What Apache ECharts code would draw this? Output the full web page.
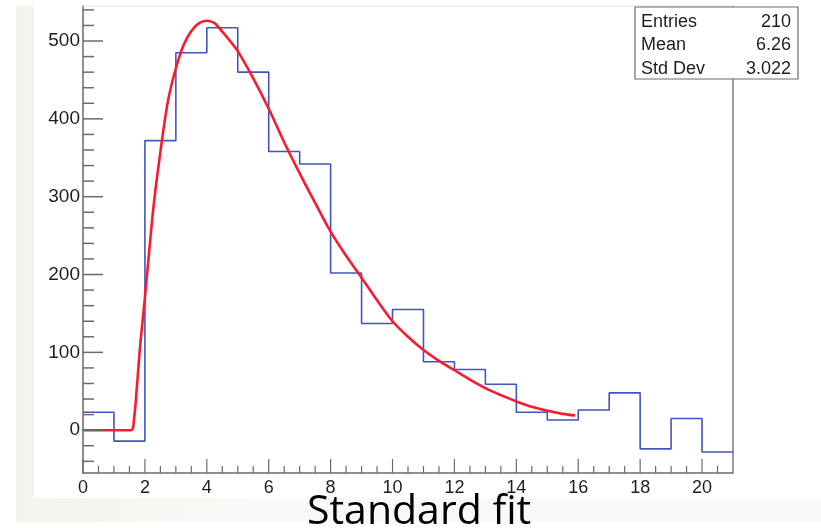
<!DOCTYPE html>
<html>
<head>
<meta charset="utf-8">
<script src="https://cdn.jsdelivr.net/npm/echarts@6/dist/echarts.min.js"></script>
<style>
html,body{margin:0;padding:0;background:#ffffff;}
#chart{width:821px;height:528px;}
</style>
</head>
<body>
<div id="chart"></div>
<script>
// ---- data ----
const binLowEdges = [0,1,2,3,4,5,6,7,8,9,10,11,12,13,14,15,16,17,18,19,20];
const binUpperEdge = 21;
const binCounts = [23,-14,372,485,517,460,358,342,202,137,155,88,78,59,23,13,26,48,-24,15,-28];

const fitX = [0,1.0,1.55,1.65,1.75,1.85,2.0,2.15,2.3,2.55,2.75,3.0,3.25,3.5,3.75,4.0,4.25,4.5,4.75,5.0,5.5,6.0,6.5,7.0,7.5,8.0,8.5,9.0,9.5,10.0,10.5,11.0,11.5,12.0,12.5,13.0,13.5,14.0,14.5,15.0,15.5,15.9];
const fitY = [0,0,0,15,60,110,170,235,295,372,424,465,495,513,523,526,523,512,500,487,452,413,370,330,292,255,224,196,167,140,120,103,89,77,65,54,45,37,30,25,21,19];

const yMajorTicks = [0,100,200,300,400,500];
const yMinorTicks = [-40,-20,20,40,60,80,120,140,160,180,220,240,260,280,320,340,360,380,420,440,460,480,520,540];
const xMajorTicks = [0,2,4,6,8,10,12,14,16,18,20];
const xMinorTicks = [0.5,1,1.5,2.5,3,3.5,4.5,5,5.5,6.5,7,7.5,8.5,9,9.5,10.5,11,11.5,12.5,13,13.5,14.5,15,15.5,16.5,17,17.5,18.5,19,19.5,20.5];

const statsLabels = ['Entries','Mean','Std Dev'];
const statsValues = ['210','6.26','3.022'];
const caption = 'Standard fit';

const yMin = -55, yMax = 545, xMin = 0, xMax = 21;

// ---- build series data ----
const histData = binLowEdges.map((x,i)=>[x, binCounts[i]]);
histData.push([binUpperEdge, binCounts[binCounts.length-1]]);
const fitData = fitX.map((x,i)=>[x, fitY[i]]);

const tickColor = '#6a6a6a';
function yTickSeries(vals, len){
  return {
    type:'custom', silent:true, z:5, clip:false,
    data: vals.map(v=>[xMin, v]),
    encode:{x:0,y:1},
    renderItem:function(params, api){
      const p = api.coord([api.value(0), api.value(1)]);
      return {type:'line', shape:{x1:p[0], y1:p[1], x2:p[0]+len, y2:p[1]},
              style:{stroke:tickColor, lineWidth:1.5}};
    }
  };
}
function xTickSeries(vals, len){
  return {
    type:'custom', silent:true, z:5, clip:false,
    data: vals.map(v=>[v, yMin]),
    encode:{x:0,y:1},
    renderItem:function(params, api){
      const p = api.coord([api.value(0), api.value(1)]);
      return {type:'line', shape:{x1:p[0], y1:p[1], x2:p[0], y2:p[1]-len},
              style:{stroke:tickColor, lineWidth:1.2}};
    }
  };
}

const chart = echarts.init(document.getElementById('chart'), null, {renderer:'canvas'});

const statsGraphics = [];
statsLabels.forEach((lab,i)=>{
  statsGraphics.push({type:'text', left:641, top:13+i*23.5, z:101,
    style:{text:lab, font:'18px "Liberation Sans", Arial, sans-serif', fill:'#1e1e1e'}});
  statsGraphics.push({type:'text', right:821-791, top:13+i*23.5, z:101,
    style:{text:statsValues[i], font:'18px "Liberation Sans", Arial, sans-serif', fill:'#1e1e1e', textAlign:'right'}});
});

chart.setOption({
  animation:false,
  backgroundColor:'#ffffff',
  grid:{left:83, right:88, top:6, bottom:55},
  xAxis:{
    type:'value', min:xMin, max:xMax, interval:2,
    axisLine:{onZero:false, lineStyle:{color:'#6a6a6a', width:1.5}},
    axisTick:{show:false},
    splitLine:{show:false},
    axisLabel:{showMaxLabel:false, color:'#1e1e1e', fontSize:18, margin:6,
               fontFamily:'"Liberation Sans", Arial, sans-serif'}
  },
  yAxis:{
    type:'value', min:yMin, max:yMax,
    axisLine:{show:true, onZero:false, lineStyle:{color:'#6a6a6a', width:1.5}},
    axisTick:{show:false},
    splitLine:{show:false},
    axisLabel:{showMinLabel:false, showMaxLabel:false, color:'#1e1e1e', fontSize:19, margin:3,
               fontFamily:'"Liberation Sans", Arial, sans-serif'}
  },
  graphic:[
    {type:'rect', z:-10, shape:{x:16, y:6, width:805, height:516},
      style:{fill:{type:'linear', x:0, y:0, x2:1, y2:0, colorStops:[{offset:0,color:'#f3f3ec'},{offset:0.3,color:'#f9f9f7'},{offset:1,color:'#f9f9f9'}]}}},
    {type:'rect', z:-9, shape:{x:34, y:6, width:787, height:492}, style:{fill:'#ffffff'}},
    {type:'line', z:2, shape:{x1:83, y1:6, x2:733, y2:6}, style:{stroke:'#e2e2e2', lineWidth:1.2}},
    {type:'line', z:2, shape:{x1:733, y1:6, x2:733, y2:473}, style:{stroke:'#7a7a7a', lineWidth:1.5}},
    {type:'rect', z:100, shape:{x:635, y:7, width:163, height:72}, style:{fill:'#ffffff', stroke:'#6a6a6a', lineWidth:1.2}},
    ...statsGraphics,
    {type:'text', left:307, top:492, z:101,
      style:{text:caption, font:'41px "Open Sans", "Noto Sans", sans-serif', fill:'#000'}}
  ],
  series:[
    {type:'line', data:histData, step:'end', symbol:'none', z:3,
     lineStyle:{color:'#4255bd', width:1.6}},
    {type:'line', data:fitData, smooth:0.35, symbol:'none', z:4,
     lineStyle:{color:'#fa1a2e', width:2.6}},
    yTickSeries(yMajorTicks, 20),
    yTickSeries(yMinorTicks, 11),
    xTickSeries(xMajorTicks, 14),
    xTickSeries(xMinorTicks, 7)
  ]
});
</script>
</body>
</html>
